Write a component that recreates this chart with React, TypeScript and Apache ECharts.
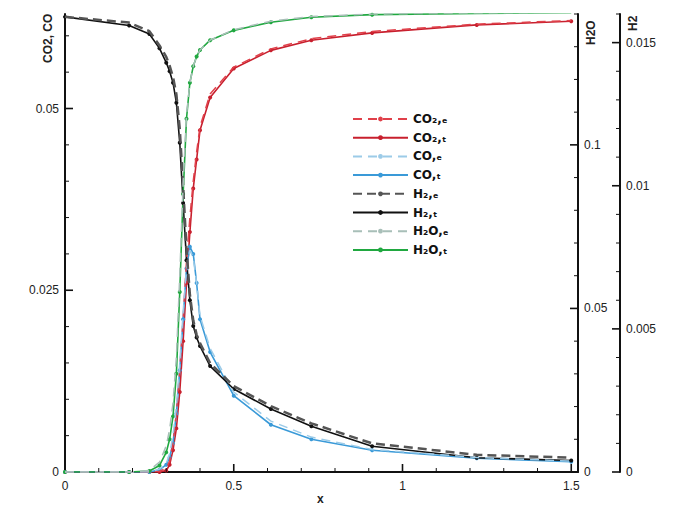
import React, { useEffect, useRef } from "react";
import * as echarts from "echarts";

const xs = [0, 0.19, 0.25, 0.28, 0.3, 0.31, 0.32, 0.33, 0.34, 0.35, 0.36, 0.37, 0.38, 0.39, 0.4, 0.43, 0.5, 0.61, 0.73, 0.91, 1.22, 1.5];

const co2Dashed = [0, 0, 0, 0.0001, 0.0005, 0.0015, 0.004, 0.008, 0.014, 0.021, 0.029, 0.035, 0.04, 0.044, 0.0475, 0.052, 0.0557, 0.0582, 0.0596, 0.0606, 0.0616, 0.0621];
const co2Solid = [0, 0, 0, 0, 0.0002, 0.001, 0.003, 0.006, 0.011, 0.018, 0.026, 0.033, 0.039, 0.043, 0.047, 0.0515, 0.0555, 0.058, 0.0594, 0.0604, 0.0615, 0.062];
const coDashed = [0, 0, 0, 0.0004, 0.0012, 0.0025, 0.005, 0.009, 0.015, 0.022, 0.028, 0.0305, 0.0295, 0.026, 0.0215, 0.017, 0.011, 0.007, 0.0048, 0.0031, 0.002, 0.0015];
const coSolid = [0, 0, 0, 0.0003, 0.001, 0.002, 0.004, 0.008, 0.014, 0.021, 0.028, 0.031, 0.03, 0.026, 0.021, 0.0165, 0.0105, 0.0065, 0.0045, 0.003, 0.0019, 0.0014];
const h2Dashed = [0.0159, 0.0157, 0.0154, 0.0149, 0.0145, 0.0142, 0.0138, 0.0132, 0.012, 0.01, 0.0078, 0.0062, 0.0053, 0.0048, 0.0045, 0.0038, 0.003, 0.0023, 0.0017, 0.001, 0.0006, 0.0005];
const h2Solid = [0.0159, 0.0156, 0.0153, 0.0148, 0.0143, 0.014, 0.0136, 0.0129, 0.0115, 0.0094, 0.0074, 0.006, 0.0051, 0.0047, 0.0044, 0.0037, 0.0029, 0.0022, 0.0016, 0.0009, 0.0005, 0.0004];
const h2oDashed = [0, 0, 0.0005, 0.003, 0.008, 0.013, 0.021, 0.035, 0.06, 0.088, 0.109, 0.119, 0.124, 0.127, 0.129, 0.132, 0.1352, 0.1378, 0.1392, 0.14, 0.1403, 0.1405];
const h2oSolid = [0, 0, 0.0003, 0.002, 0.006, 0.01, 0.017, 0.03, 0.055, 0.085, 0.108, 0.119, 0.124, 0.127, 0.129, 0.132, 0.135, 0.1375, 0.139, 0.1398, 0.1402, 0.1404];

const seriesNames = ["CO₂,ₑ", "CO₂,ₜ", "CO,ₑ", "CO,ₜ", "H₂,ₑ", "H₂,ₜ", "H₂O,ₑ", "H₂O,ₜ"];

const xTicks = [0, 0.5, 1, 1.5];
const leftTicks = [0, 0.025, 0.05];
const h2oTicks = [0, 0.05, 0.1];
const h2Ticks = [0, 0.005, 0.01, 0.015];

const pair = (ys: number[]) => xs.map((x, i) => [x, ys[i]]);

export default function App() {
  const ref = useRef<HTMLDivElement>(null);
  useEffect(() => {
    document.body.style.margin = "0";
    if (!ref.current) return;
    const chart = echarts.init(ref.current, null, { renderer: "svg" });
    const font = "Liberation Sans, Arial, sans-serif";
    const W = 676;
    const H = 514;
    const G = { left: 65, right: 98, top: 14, bottom: 42 };
    const X_MAX = 1.52;
    const Y_MAX = [0.063, 0.14, 0.016];

    const lbl = (ticks: number[], margin: number) => ({
      color: "#222",
      fontSize: 12,
      fontFamily: font,
      margin,
      formatter: (v: any) => {
        const n = Number(v);
        const t = ticks.find((k) => Math.abs(k - n) < 1e-9);
        return t === undefined ? "" : String(t);
      },
    });

    const mk = (name: string, ys: number[], axis: number, color: string, dashed: boolean, width: number, dash?: number[]) => ({
      name,
      type: "line",
      yAxisIndex: axis,
      data: pair(ys),
      symbol: dashed ? "none" : "circle",
      symbolSize: 4,
      showSymbol: !dashed,
      itemStyle: { color },
      lineStyle: { color, width, type: dashed ? (dash || "dashed") : "solid" },
      z: dashed ? 3 : 2,
    });

    const yAx = (max: number, interval: number, ticks: number[], extra: any) => ({
      type: "value",
      min: 0,
      max,
      interval,
      axisLine: { show: true, lineStyle: { color: "#111", width: 2 } },
      axisTick: { show: false },
      splitLine: { show: false },
      axisLabel: lbl(ticks, 6),
      ...extra,
    });

    const texts: any[] = [
      { type: "text", x: 42, y: 63, rotation: Math.PI / 2, style: { text: "CO2, CO", fill: "#222", font: `bold 12px ${font}` } },
      { type: "text", x: 585, y: 45, rotation: Math.PI / 2, style: { text: "H2O", fill: "#222", font: `bold 12px ${font}` } },
      { type: "text", x: 627, y: 31, rotation: Math.PI / 2, style: { text: "H2", fill: "#222", font: `bold 12px ${font}` } },
      { type: "text", x: 317, y: 493, style: { text: "x", fill: "#222", font: `bold 12px ${font}` } },
    ];

    // tick marks (axis decoration) placed along the axis extents
    const x0 = G.left;
    const x1 = W - G.right;
    const y0 = H - G.bottom;
    const plotW = x1 - x0;
    const plotH = y0 - G.top;
    const px = (v: number) => x0 + (v / X_MAX) * plotW;
    const py = (i: number, v: number) => y0 - (v / Y_MAX[i]) * plotH;
    const near = (a: number, b: number) => Math.abs(a - b) < 1e-9;
    const tickEls: any[] = [];
    const seg = (a: number, b: number, c: number, d: number, w: number) =>
      tickEls.push({ type: "line", silent: true, z: 100, shape: { x1: a, y1: b, x2: c, y2: d }, style: { stroke: "#111", lineWidth: w } });
    for (let k = 1; k <= 15; k++) {
      const v = k / 10;
      const major = xTicks.some((t) => near(t, v));
      seg(px(v), y0, px(v), y0 - (major ? 8 : 4), major ? 1.6 : 1);
    }
    for (let k = 1; k <= 12; k++) {
      const v = k * 0.005;
      const major = leftTicks.some((t) => near(t, v));
      seg(x0, py(0, v), x0 + (major ? 8 : 4), py(0, v), major ? 1.6 : 1);
    }
    for (let k = 1; k <= 14; k++) {
      const v = k * 0.01;
      const major = h2oTicks.some((t) => near(t, v));
      seg(x1, py(1, v), x1 - (major ? 8 : 4), py(1, v), major ? 1.6 : 1);
    }
    const xh = x1 + 42;
    for (let k = 0; k <= 16; k++) {
      const v = k * 0.001;
      const major = h2Ticks.some((t) => near(t, v));
      seg(xh, py(2, v), xh - (major ? 8 : 4), py(2, v), major ? 1.6 : 1);
    }

    chart.setOption({
      animation: false,
      grid: G,
      legend: {
        orient: "vertical",
        left: 347,
        top: 108,
        itemWidth: 55,
        itemHeight: 6,
        itemGap: 6.7,
        textStyle: { color: "#111", fontSize: 12, fontWeight: "bold", fontFamily: "DejaVu Sans, sans-serif" },
        data: seriesNames,
      },
      xAxis: {
        type: "value",
        min: 0,
        max: X_MAX,
        interval: 0.5,
        axisLine: { show: true, lineStyle: { color: "#111", width: 2 } },
        axisTick: { show: false },
        splitLine: { show: false },
        axisLabel: lbl(xTicks, 8),
      },
      yAxis: [
        yAx(Y_MAX[0], 0.025, leftTicks, {}),
        yAx(Y_MAX[1], 0.05, h2oTicks, { position: "right" }),
        yAx(Y_MAX[2], 0.005, h2Ticks, { position: "right", offset: 42 }),
      ],
      graphic: [...texts, ...tickEls],
      series: [
        mk(seriesNames[0], co2Dashed, 0, "#e0404a", true, 1.5, [9, 6]),
        mk(seriesNames[1], co2Solid, 0, "#c8202e", false, 1.6),
        mk(seriesNames[2], coDashed, 0, "#9ccbe8", true, 1.5, [9, 6]),
        mk(seriesNames[3], coSolid, 0, "#3a9ad8", false, 1.6),
        mk(seriesNames[4], h2Dashed, 2, "#555555", true, 2.5, [9, 5]),
        mk(seriesNames[5], h2Solid, 2, "#111111", false, 1.6),
        mk(seriesNames[6], h2oDashed, 1, "#a8bfb8", true, 1.5, [9, 6]),
        mk(seriesNames[7], h2oSolid, 1, "#20a840", false, 1.6),
      ],
    });

    return () => chart.dispose();
  }, []);
  return <div ref={ref} style={{ width: 676, height: 514 }} />;
}
